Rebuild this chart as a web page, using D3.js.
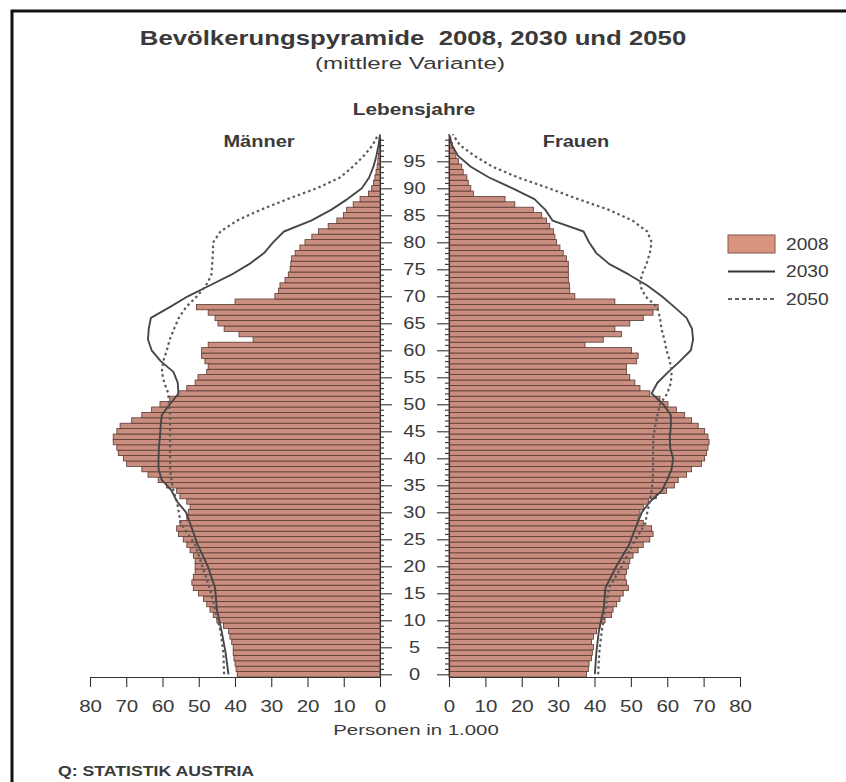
<!DOCTYPE html>
<html>
<head>
<meta charset="utf-8">
<script src="https://cdn.jsdelivr.net/npm/d3@7"></script>
<style>
  body { margin: 0; background: #fff; }
  text { font-family: "Liberation Sans", Arial, sans-serif; fill: #3a3a3a; }
</style>
</head>
<body>
<div id="chart"></div>
<script>
// Ages 0..99, one bar per age and sex
const ages = d3.range(0, 100);

// 2008 population in 1,000
const men2008 = [
  39.4, 39.7, 40.0, 40.3, 40.5, 40.5, 40.9, 41.4, 41.8, 43.2,
  45.0, 46.0, 46.9, 47.8, 48.7, 50.1, 51.5, 51.9, 51.5, 51.0,
  51.0, 51.0, 51.5, 52.4, 53.3, 54.3, 55.6, 56.1, 55.2, 53.3,
  52.9, 52.4, 53.3, 55.2, 56.1, 58.9, 61.2, 64.0, 65.7, 69.9,
  70.8, 72.2, 72.6, 73.6, 73.6, 72.6, 71.7, 68.5, 65.7, 63.0,
  60.7, 58.0, 55.7, 53.3, 51.0, 50.2, 47.8, 47.4, 48.3, 49.2,
  49.2, 47.4, 35.0, 38.9, 43.0, 44.7, 45.5, 47.4, 50.6, 40.0,
  29.0, 28.0, 27.6, 26.2, 25.3, 24.8, 24.6, 24.4, 23.4, 22.1,
  20.7, 18.8, 17.0, 14.3, 11.9, 10.1, 9.2, 7.4, 5.5, 3.2,
  2.3, 1.8, 1.4, 1.1, 0.8, 0.6, 0.4, 0.3, 0.2, 0.1
];
const women2008 = [
  37.8, 38.3, 38.5, 39.2, 39.4, 39.7, 39.2, 39.7, 40.6, 41.5,
  42.9, 44.7, 45.1, 46.1, 47.0, 47.9, 49.3, 48.8, 48.4, 48.8,
  49.3, 49.7, 50.6, 52.0, 53.4, 55.2, 56.1, 55.7, 53.4, 52.0,
  52.5, 53.4, 54.8, 57.0, 59.8, 62.0, 63.0, 65.3, 66.7, 69.4,
  70.3, 70.8, 71.2, 71.5, 71.2, 70.3, 68.5, 66.7, 64.8, 62.5,
  60.2, 58.0, 55.2, 52.5, 51.1, 49.7, 48.8, 48.8, 51.6, 52.0,
  50.2, 37.4, 42.4, 47.4, 45.6, 49.7, 53.4, 56.1, 57.5, 45.6,
  34.6, 33.2, 33.1, 32.8, 32.8, 32.8, 32.8, 32.3, 31.4, 30.5,
  29.6, 29.1, 28.7, 27.7, 26.8, 25.5, 23.2, 18.1, 15.4, 6.7,
  6.0, 5.3, 4.9, 3.9, 3.5, 2.6, 1.9, 1.4, 0.9, 0.5
];

// Forecast lines, sampled at these ages
const lineAges = [0, 4, 8, 12, 16, 20, 24, 28, 30, 32, 34, 36, 38, 40, 42, 44, 46, 48,
  50, 52, 54, 56, 58, 60, 62, 64, 66, 68, 70, 72, 74, 76, 78, 80, 82, 84, 86, 88,
  90, 92, 94, 96, 98, 100];
const men2030 = [41.8, 42.6, 43.7, 45.0, 45.5, 47.5, 50.3, 52.4, 53.5, 56.0, 57.5, 60.2, 61.1, 61.1, 61.0, 60.7, 60.5, 60.2,
  58.0, 55.6, 55.8, 57.0, 60.5, 63.0, 64.0, 63.8, 63.2, 58.0, 53.0, 47.0, 41.0, 36.0, 32.0, 29.5, 26.5, 19.0, 13.5, 9.0,
  5.0, 3.0, 1.8, 1.0, 0.4, 0.0];
const men2050 = [43.0, 43.2, 44.0, 45.5, 47.0, 49.0, 51.0, 55.0, 55.5, 56.0, 57.0, 57.5, 57.9, 57.9, 57.9, 57.9, 57.9, 57.9,
  58.2, 58.4, 59.5, 60.2, 59.8, 58.8, 58.0, 56.8, 55.5, 53.5, 50.5, 48.0, 46.5, 46.3, 46.1, 46.0, 44.0, 39.5, 33.0, 25.5,
  17.5, 11.0, 7.5, 4.5, 2.0, 0.5];
const women2030 = [40.1, 40.5, 41.2, 42.5, 43.0, 46.0, 49.5, 51.8, 53.0, 55.3, 58.5, 60.0, 61.2, 61.6, 60.8, 60.7, 61.0, 61.0,
  58.9, 55.7, 57.3, 60.3, 63.5, 66.5, 67.1, 66.8, 65.3, 62.0, 58.5, 54.5, 49.5, 44.0, 40.5, 38.5, 37.0, 28.5, 26.5, 23.5,
  17.5, 11.0, 6.0, 2.5, 0.8, 0.0];
const women2050 = [41.0, 41.3, 42.0, 43.0, 44.0, 47.5, 50.5, 54.0, 54.5, 55.2, 55.7, 56.0, 56.1, 56.1, 56.1, 56.2, 56.7, 57.3,
  58.0, 60.0, 61.0, 61.2, 60.7, 59.8, 59.2, 58.4, 58.0, 57.2, 54.0, 52.5, 53.0, 54.3, 55.2, 55.7, 54.5, 50.5, 44.0, 35.5,
  27.5, 19.0, 12.0, 7.0, 3.0, 1.0];

const ageTicks = d3.range(0, 100, 5);
const xTicks = [0, 10, 20, 30, 40, 50, 60, 70, 80];
const legendItems = ["2008", "2030", "2050"];

const W = 846, H = 782;
const svg = d3.select("#chart").append("svg")
    .attr("width", W)
    .attr("height", H);

svg.append("rect").attr("width", W).attr("height", H).attr("fill", "#fff");

// frame (top and left edges only)
svg.append("path")
    .attr("d", `M12,${H} L12,11 L${W},11`)
    .attr("fill", "none")
    .attr("stroke", "#111")
    .attr("stroke-width", 3);

// the source picture is a little stretched sideways, so text gets scaleX
function label(txt, x, y, size, opt = {}) {
  return svg.append("text")
      .attr("transform", `translate(${x},${y}) scale(${opt.sx || 1.25},1)`)
      .attr("text-anchor", opt.anchor || "middle")
      .attr("font-size", size)
      .attr("font-weight", opt.bold ? "bold" : null)
      .attr("fill", opt.fill || "#3a3a3a")
      .style("white-space", "pre")
      .text(txt);
}

// scales
const xL = d3.scaleLinear().domain([0, 80]).range([380, 90]);
const xR = d3.scaleLinear().domain([0, 80]).range([449, 740]);
const y = d3.scaleLinear().domain([-0.5, 99.5]).range([677, 137]);

const barFill = "#c98e7f", barStroke = "#5b3a32";

// Men bars
svg.append("g").selectAll("rect")
  .data(ages)
  .join("rect")
    .attr("x", d => xL(men2008[d]))
    .attr("y", d => y(d + 0.5))
    .attr("width", d => xL(0) - xL(men2008[d]))
    .attr("height", d => y(d - 0.5) - y(d + 0.5))
    .attr("fill", barFill)
    .attr("stroke", barStroke)
    .attr("stroke-width", 0.8);

// Women bars
svg.append("g").selectAll("rect")
  .data(ages)
  .join("rect")
    .attr("x", xR(0))
    .attr("y", d => y(d + 0.5))
    .attr("width", d => xR(women2008[d]) - xR(0))
    .attr("height", d => y(d - 0.5) - y(d + 0.5))
    .attr("fill", barFill)
    .attr("stroke", barStroke)
    .attr("stroke-width", 0.8);

// forecast lines
const lineMen = vals => d3.line()
    .x((d, i) => xL(vals[i]))
    .y(d => y(d))(lineAges);
const lineWomen = vals => d3.line()
    .x((d, i) => xR(vals[i]))
    .y(d => y(d))(lineAges);

const solid = {stroke: "#474747", width: 1.9, dash: null};
const dotted = {stroke: "#5a5a5a", width: 2.2, dash: "2.5,3"};

[[lineMen(men2030), solid], [lineWomen(women2030), solid],
 [lineMen(men2050), dotted], [lineWomen(women2050), dotted]].forEach(([d, s]) => {
  svg.append("path")
      .attr("d", d)
      .attr("fill", "none")
      .attr("stroke", s.stroke)
      .attr("stroke-width", s.width)
      .attr("stroke-dasharray", s.dash)
      .attr("stroke-linejoin", "round");
});

// age axes (minor tick each year, long tick each 5 years)
const ageAxisL = svg.append("g")
    .attr("transform", "translate(380,0)")
    .call(d3.axisRight(y).tickValues(ages).tickSize(4).tickSizeOuter(0).tickFormat(""));
ageAxisL.selectAll(".tick line").filter(d => d % 5 === 0).attr("x2", 12);

const ageAxisR = svg.append("g")
    .attr("transform", "translate(449,0)")
    .call(d3.axisLeft(y).tickValues(ages).tickSize(4).tickSizeOuter(0).tickFormat(""));
ageAxisR.selectAll(".tick line").filter(d => d % 5 === 0).attr("x2", -12);

[ageAxisL, ageAxisR].forEach(g => {
  g.selectAll("path, line").attr("stroke", "#333").attr("stroke-width", 1.1);
});

svg.append("g").selectAll("text")
  .data(ageTicks)
  .join("text")
    .attr("transform", d => `translate(414.5,${y(d)}) scale(1.25,1)`)
    .attr("dy", "0.36em")
    .attr("text-anchor", "middle")
    .attr("font-size", 16)
    .text(d => d);

// bottom axes
[xL, xR].forEach(sc => {
  const g = svg.append("g")
      .attr("transform", "translate(0,677)")
      .call(d3.axisBottom(sc).tickValues(xTicks).tickSize(10).tickSizeOuter(0).tickPadding(14));
  g.selectAll("path, line").attr("stroke", "#333").attr("stroke-width", 1.1);
  g.selectAll("text")
      .attr("font-size", 16)
      .attr("fill", "#3a3a3a")
      .attr("transform", "scale(1.28,1)")
      .style("font-family", "'Liberation Sans', Arial, sans-serif");
});

// titles and labels
label("Bevölkerungspyramide  2008, 2030 und 2050", 413, 45, 19.5, {bold: true, sx: 1.32, fill: "#333"});
label("(mittlere Variante)", 410, 69, 17, {sx: 1.42, fill: "#333"});
label("Lebensjahre", 414, 115, 16, {bold: true, sx: 1.3});
label("Männer", 259, 147, 16, {bold: true});
label("Frauen", 576, 147, 16, {bold: true});
label("Personen in 1.000", 416, 735, 15, {sx: 1.36});
label("Q: STATISTIK AUSTRIA", 58, 776, 15, {bold: true, anchor: "start", sx: 1.18, fill: "#444"});

// legend
const legend = svg.append("g").attr("transform", "translate(728,244)");
legend.selectAll("g")
  .data(legendItems)
  .join("g")
    .attr("transform", (d, i) => `translate(0,${i * 27.5})`)
    .each(function(d, i) {
      const g = d3.select(this);
      if (i === 0) {
        g.append("rect")
            .attr("x", 0).attr("y", -9).attr("width", 47).attr("height", 18)
            .attr("fill", "#d9937f").attr("stroke", "#7a5a50").attr("stroke-width", 1);
      } else {
        g.append("line")
            .attr("x1", 0).attr("x2", 47)
            .attr("stroke", "#333")
            .attr("stroke-width", i === 1 ? 2 : 1.6)
            .attr("stroke-dasharray", i === 2 ? "4,3" : null);
      }
      g.append("text")
          .attr("transform", "translate(58,0) scale(1.2,1)")
          .attr("dy", "0.36em")
          .attr("font-size", 16)
          .text(d);
    });
</script>
</body>
</html>
